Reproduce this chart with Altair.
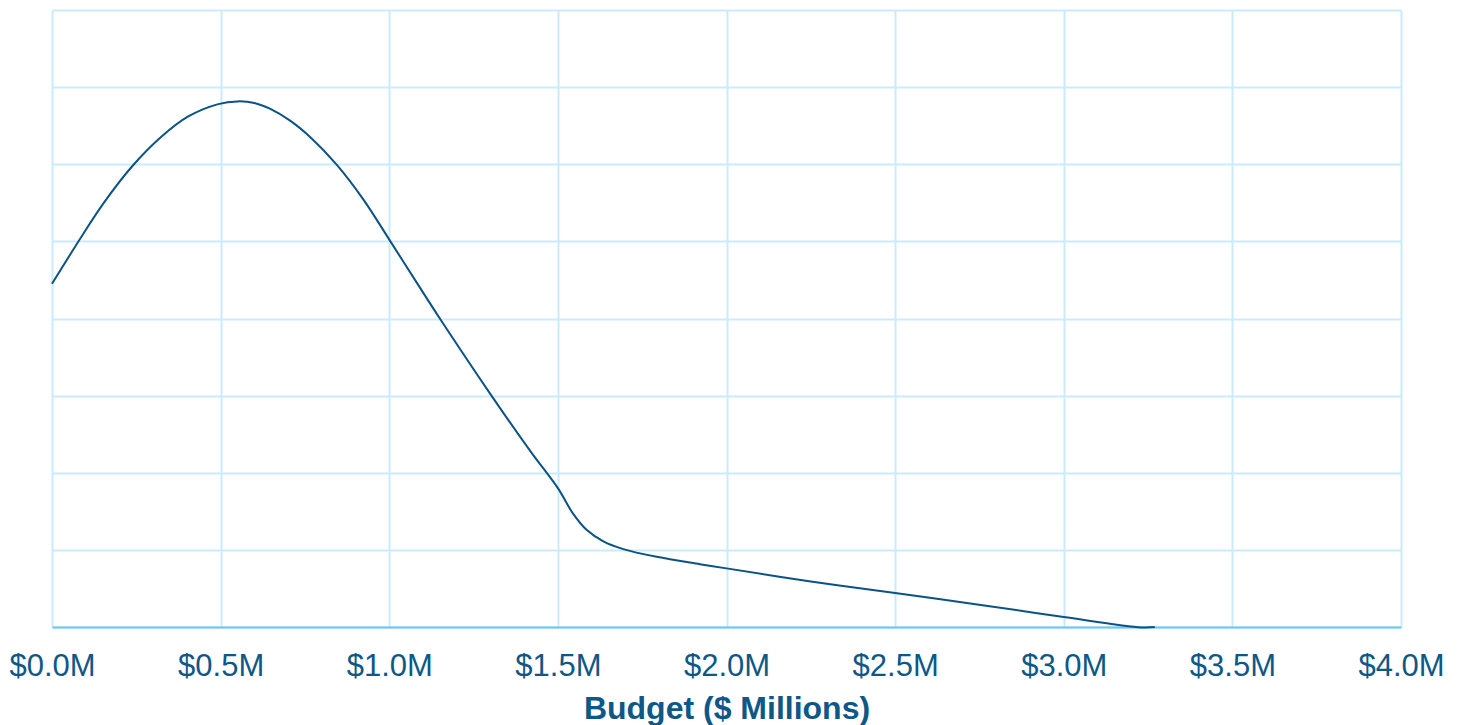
import altair as alt
import pandas as pd

budget_m = [0.0, 0.083, 0.152, 0.241, 0.325, 0.404, 0.493, 0.55, 0.60, 0.646, 0.706, 0.770,
            0.844, 0.923, 1.002, 1.091, 1.15, 1.30, 1.42, 1.50, 1.545, 1.585, 1.635, 1.694,
            1.793, 1.921, 2.00, 2.25, 2.50, 2.78, 3.00, 3.23, 3.27]
density = [4.45, 5.03, 5.49, 5.99, 6.36, 6.62, 6.78, 6.815, 6.795, 6.72, 6.565, 6.335,
           5.995, 5.545, 5.01, 4.40, 4.00, 3.02, 2.27, 1.80, 1.47, 1.26, 1.11, 1.01,
           0.91, 0.815, 0.76, 0.59, 0.44, 0.27, 0.13, -0.005, 0.0]
x_ticks = [0, 0.5, 1.0, 1.5, 2.0, 2.5, 3.0, 3.5, 4.0]
y_ticks = [0, 1, 2, 3, 4, 5, 6, 7, 8]

df = pd.DataFrame({"budget": budget_m, "density": density})

TEXT = "#0e5888"

chart = alt.Chart(df).mark_line(
    color="#0b5384", strokeWidth=2, interpolate="catmull-rom", clip=False
).encode(
    x=alt.X("budget:Q",
            scale=alt.Scale(domain=[0, 4], nice=False, zero=False),
            axis=alt.Axis(values=x_ticks, title="Budget ($ Millions)",
                          labelExpr='"$" + format(datum.value, ".1f") + "M"',
                          labelFontSize=31, labelColor=TEXT, labelFont="Liberation Sans",
                          labelPadding=24,
                          titleFontSize=32, titleColor=TEXT, titleFont="Liberation Sans",
                          titleFontWeight="bold", titlePadding=12,
                          ticks=False, domainColor="#6cc6f5", domainWidth=2,
                          gridColor="#c9ebfd", gridWidth=2, labelFlush=False)),
    y=alt.Y("density:Q",
            scale=alt.Scale(domain=[0, 8], nice=False, zero=False),
            axis=alt.Axis(values=y_ticks, title=None, labels=False, ticks=False,
                          domain=False, gridColor="#c9ebfd", gridWidth=2)),
).properties(
    width=1349, height=617,
    autosize=alt.AutoSizeParams(type="none"),
    padding={"left": 44, "top": 2, "right": 48, "bottom": 98},
).configure_view(stroke=None)

chart.save("out.html", embed_options={"renderer": "svg", "actions": False})
